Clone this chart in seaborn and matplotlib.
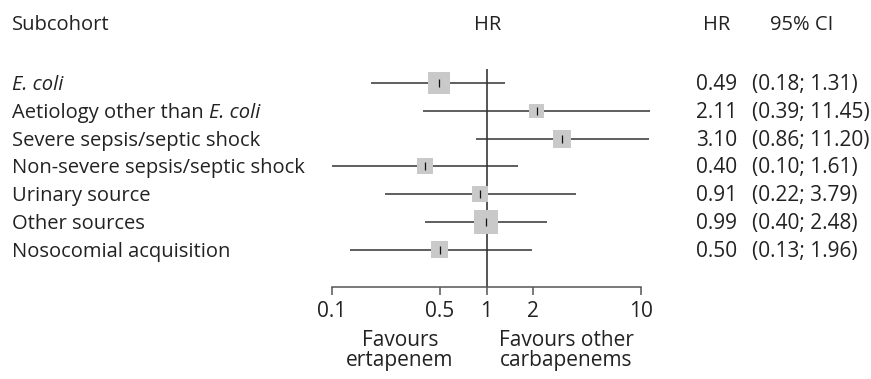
import numpy as np
import pandas as pd
import matplotlib
matplotlib.use("Agg")
import matplotlib.pyplot as plt
import matplotlib.transforms as mtransforms
import seaborn as sns

# ---- data ----
subcohorts = ["E. coli", "Aetiology other than E. coli", "Severe sepsis/septic shock",
              "Non-severe sepsis/septic shock", "Urinary source", "Other sources",
              "Nosocomial acquisition"]
hr = [0.49, 2.11, 3.10, 0.40, 0.91, 0.99, 0.50]
ci_low = [0.18, 0.39, 0.86, 0.10, 0.22, 0.40, 0.13]
ci_high = [1.31, 11.45, 11.20, 1.61, 3.79, 2.48, 1.96]
weights = [22, 14.5, 18, 16, 16, 24, 17]   # relative study weight (square side)
tick_values = [0.1, 0.5, 1, 2, 10]
tick_labels = ["0.1", "0.5", "1", "2", "10"]

sns.set_theme(style="white")
FONT = "Open Sans"
plt.rcParams["font.family"] = [FONT, "DejaVu Sans"]
TXT = "#222222"
FS = 14.5
FS2 = 15

df = pd.DataFrame({"row": np.arange(len(hr)), "hr": hr, "lo": ci_low,
                   "hi": ci_high, "w": weights})

W, H = 871, 379
fig = plt.figure(figsize=(W / 100, H / 100), dpi=100)
ax = fig.add_axes([332 / W, 1 - 287 / H, (641 - 332) / W, (287 - 69) / H])
ax.set_xscale("log")
ax.set_xlim(0.1, 10)
ax.set_ylim(7.33, -0.503)

# reference line
ax.axvline(1, color="#555555", lw=1.4, zorder=1)
# CI lines
ax.hlines(df["row"], df["lo"], df["hi"], color="#333333", lw=1.1, zorder=2,
          clip_on=False)
# squares
sizes = {w: (w * 0.72) ** 2 for w in weights}
sns.scatterplot(data=df, x="hr", y="row", size="w", sizes=sizes, marker="s",
                color="#c9c9c9", linewidth=0, legend=False, ax=ax, zorder=3,
                clip_on=False)
# centre ticks
sns.scatterplot(data=df, x="hr", y="row", marker="|", s=28, color="#111111",
                linewidth=0.9, legend=False, ax=ax, zorder=4, clip_on=False)

for s in ["left", "top", "right"]:
    ax.spines[s].set_visible(False)
ax.spines["bottom"].set_bounds(0.1, 10)
ax.spines["bottom"].set_color("#555555")
ax.spines["bottom"].set_linewidth(1.1)
ax.set_xticks(tick_values)
ax.set_xticklabels(tick_labels)
ax.xaxis.set_minor_locator(matplotlib.ticker.NullLocator())
ax.tick_params(axis="x", direction="out", length=6, width=1.1, color="#555555",
               pad=4, labelsize=FS2, labelcolor=TXT, bottom=True)
ax.set_yticks([])
ax.set_xlabel("")
ax.set_ylabel("")

# row labels and values
bt = mtransforms.blended_transform_factory(fig.transFigure, ax.transData)
for i, lab in enumerate(subcohorts):
    y = i + 0.25
    if lab == "E. coli":
        ax.text(12 / W, y, lab, transform=bt, fontsize=FS, color=TXT,
                va="baseline", ha="left", fontstyle="italic")
    elif lab.endswith("E. coli"):
        t = ax.text(12 / W, y, lab[:-7], transform=bt, fontsize=FS, color=TXT,
                    va="baseline", ha="left")
        ax.annotate("E. coli", xy=(1, 0), xycoords=t, fontsize=FS, color=TXT,
                    va="bottom", ha="left", fontstyle="italic")
    else:
        ax.text(12 / W, y, lab, transform=bt, fontsize=FS, color=TXT,
                va="baseline", ha="left")
    ax.text(696 / W, y, f"{hr[i]:.2f}", transform=bt, fontsize=FS2, color=TXT,
            va="baseline", ha="left")
    ax.text(752 / W, y, f"({ci_low[i]:.2f}; {ci_high[i]:.2f})", transform=bt,
            fontsize=FS2, color=TXT, va="baseline", ha="left")

# headers
hy = 1 - 30 / H
fig.text(12 / W, hy, "Subcohort", fontsize=FS, color=TXT, va="baseline")
fig.text(487.5 / W, hy, "HR", fontsize=FS, color=TXT, va="baseline", ha="center")
fig.text(703 / W, hy, "HR", fontsize=FS, color=TXT, va="baseline")
fig.text(770 / W, hy, "95% CI", fontsize=FS, color=TXT, va="baseline")

# favours labels
for x, l1, l2 in [(400, "Favours", "ertapenem"), (566, "Favours other", "carbapenems")]:
    fig.text(x / W, 1 - 346 / H, l1, fontsize=FS2, color=TXT, va="baseline", ha="center")
    fig.text(x / W, 1 - 366 / H, l2, fontsize=FS2, color=TXT, va="baseline", ha="center")

fig.savefig("out.png", dpi=100, facecolor="white")
